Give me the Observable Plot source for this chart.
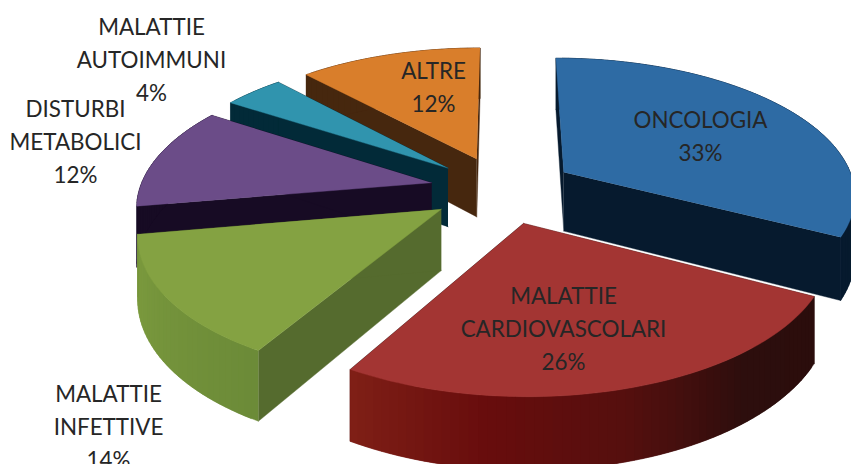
<!DOCTYPE html>
<html>
<head>
<meta charset="utf-8">
<style>html,body{margin:0;padding:0;background:#fff;overflow:hidden}</style>
<script src="https://cdn.jsdelivr.net/npm/d3@7"></script>
<script src="https://cdn.jsdelivr.net/npm/@observablehq/plot@0.6"></script>
</head>
<body>
<div id="chart"></div>
<script>
// Therapeutic areas and their shares, clockwise from twelve o'clock.
const categories = ["ONCOLOGIA", "MALATTIE CARDIOVASCOLARI", "MALATTIE INFETTIVE", "DISTURBI METABOLICI", "MALATTIE AUTOIMMUNI", "ALTRE"];
const shares = [33, 26, 14, 12, 4, 12];
const labelLines = [["ONCOLOGIA"], ["MALATTIE", "CARDIOVASCOLARI"], ["MALATTIE", "INFETTIVE"], ["DISTURBI", "METABOLICI"], ["MALATTIE", "AUTOIMMUNI"], ["ALTRE"]];

// Styling per slice: top face, flat cut faces, and the rim ramp from start angle to end angle.
const topColors = ["#2e6ba4", "#a33533", "#84a242", "#6b4c88", "#3094ae", "#d97e2b"];
const cutColors = ["#061a2e", "#2b0d0c", "#556b2e", "#170b24", "#022a38", "#46270e"];
const rimRamps = [
  ["#061a2e", "#061a2e"],
  ["#2b0d0c", "#2d0e0d", "#550f0e", "#680d0d", "#7f1f16"],
  ["#6c8b38", "#7c9b3e"],
  ["#170b24", "#170b24"],
  ["#022a38", "#022a38"],
  ["#46270e", "#46270e"]
];

// Label anchors in page pixels.
const labelX = [700, 563, 108, 75, 151, 433];
const labelY = [133, 326, 424, 139, 57, 84];

// Perspective camera over the pie's ground plane.
const camera = {cx: 502, cy: 189, sx: 292, sy: 136, depth: 0.15, thickness: 60, explode: 0.25};
const project = (u, v, drop = 0) => {
  const w = 1 + camera.depth * v;
  return [camera.cx + camera.sx * u / w, camera.cy + (drop * camera.thickness - camera.sy * v) / w];
};

const total = d3.sum(shares);
const faces = [];
const addFace = (id, color, points) => points.forEach(([x, y]) => faces.push({id, color, x, y}));

let acc = 0;
const slices = shares.map((s) => {
  const a0 = acc / total * 2 * Math.PI;
  acc += s;
  return {a0, a1: acc / total * 2 * Math.PI};
});

// Painter's order: the slices at the back first, the big front slices last.
[5, 4, 3, 2, 0, 1].forEach((i) => {
  const {a0, a1} = slices[i];
  const mid = (a0 + a1) / 2;
  const au = camera.explode * Math.sin(mid);
  const av = camera.explode * Math.cos(mid);
  const n = Math.max(4, Math.ceil((a1 - a0) / (Math.PI / 120)));
  const rim = d3.range(n + 1).map((k) => {
    const a = a0 + (a1 - a0) * k / n;
    return [au + Math.sin(a), av + Math.cos(a)];
  });
  const ramp = d3.piecewise(d3.interpolateRgb, rimRamps[i]);

  // Flat cut faces from the apex out to each end of the arc.
  [rim[0], rim[n]].forEach((p, j) => {
    addFace(`cut-${i}-${j}`, cutColors[i], [
      project(au, av), project(p[0], p[1]), project(p[0], p[1], 1), project(au, av, 1)
    ]);
  });
  // Outer wall as narrow strips, each running over the next one so no seams show.
  for (let k = 0; k < n; k++) {
    const p = rim[k], q = rim[Math.min(k + 2, n)];
    addFace(`rim-${i}-${k}`, d3.color(ramp(k / (n - 1))).formatHex(), [
      project(p[0], p[1]), project(q[0], q[1]), project(q[0], q[1], 1), project(p[0], p[1], 1)
    ]);
  }
  // Top face.
  addFace(`top-${i}`, topColors[i], [project(au, av), ...rim.map((p) => project(p[0], p[1]))]);
});

const labels = categories.map((c, i) => ({
  text: [...labelLines[i], `${shares[i]}%`].join("\n"),
  x: labelX[i],
  y: labelY[i]
}));

const chart = Plot.plot({
  width: 851,
  height: 464,
  margin: 0,
  x: {domain: [0, 851], axis: null},
  y: {domain: [464, 0], axis: null},
  color: {type: "identity"},
  style: {background: "#fff"},
  marks: [
    Plot.line(faces, {x: "x", y: "y", z: "id", fill: "color", stroke: "color", strokeWidth: 0.4}),
    Plot.text(labels, {
      x: "x", y: "y", text: "text",
      fontFamily: "Lato", fontSize: 22.4, lineHeight: 1.47,
      fill: "#262626", textAnchor: "middle", lineAnchor: "middle"
    })
  ]
});
document.getElementById("chart").appendChild(chart);
</script>
</body>
</html>
